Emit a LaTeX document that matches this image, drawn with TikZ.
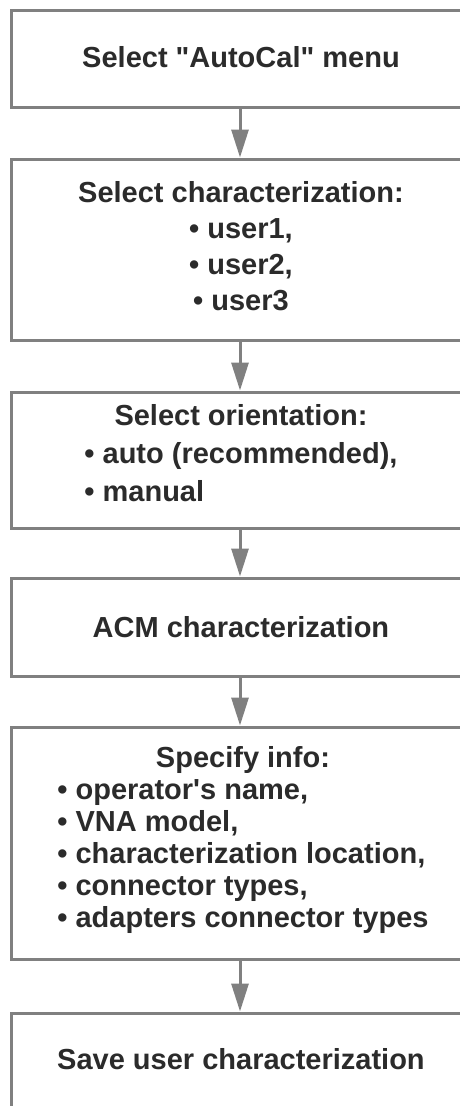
\documentclass[tikz,border=0pt]{standalone}
\usepackage{fontspec}
\setmainfont{Liberation Sans}[Ligatures=TeXOff]
\usetikzlibrary{arrows.meta}
\definecolor{boxgray}{HTML}{808080}
\definecolor{txt}{HTML}{2B2B2B}
\begin{document}
\begin{tikzpicture}[x=1pt,y=-1pt,
  stepbox/.style={draw=boxgray, line width=3pt, fill=white, minimum width=540pt,
    inner sep=0pt},
  steptext/.style={inner sep=0pt, text=txt, font=\fontsize{29}{32}\selectfont\bfseries, align=center},
  flow/.style={draw=boxgray, line width=3pt, -{Triangle[width=17pt,length=28pt]}}]
\useasboundingbox (0,0) rectangle (460,1106);
\clip (0,0) rectangle (460,1106);
\fill[white] (0,0) rectangle (460,1106);

\node[stepbox, minimum height=97pt] (b1) at (281.5,58.5) {};
\node[stepbox, minimum height=181pt] (b2) at (281.5,249.5) {};
\node[stepbox, minimum height=136pt] (b3) at (281.5,460) {};
\node[stepbox, minimum height=98pt] (b4) at (281.5,627) {};
\node[stepbox, minimum height=232pt] (b5) at (281.5,843) {};
\node[stepbox, minimum height=97pt] (b6) at (281.5,1061.5) {};

\node[steptext] (t1) at (241,57) {Select "AutoCal" menu};

\node[steptext, font=\fontsize{29}{36}\selectfont\bfseries] (t2) at (241,249.5)
  {\begin{tabular}{@{}c@{}}Select characterization:\\• user1,\\• user2,\\• user3\end{tabular}};

\node[steptext, font=\fontsize{29}{38}\selectfont\bfseries] (t3) at (241,456)
  {\begin{tabular}{@{}c@{}}Select orientation:\\
   \begin{tabular}[t]{@{}l@{}}• auto (recommended),\\• manual\end{tabular}\end{tabular}};

\node[steptext] (t4) at (241,627) {ACM characterization};

\node[steptext] (t5) at (243,841)
  {\begin{tabular}{@{}c@{}}Specify info:\\
   \begin{tabular}[t]{@{}l@{}}• operator's name,\\• VNA model,\\• characterization location,\\• connector types,\\• adapters connector types\end{tabular}\end{tabular}};

\node[steptext] (t6) at (241,1059) {Save user characterization};

\coordinate (ax) at (240,0);
\draw[flow] (b1.south -| ax) -- (b2.north -| ax);
\draw[flow] (b2.south -| ax) -- (b3.north -| ax);
\draw[flow] (b3.south -| ax) -- (b4.north -| ax);
\draw[flow] (b4.south -| ax) -- (b5.north -| ax);
\draw[flow] (b5.south -| ax) -- (b6.north -| ax);
\end{tikzpicture}
\end{document}
